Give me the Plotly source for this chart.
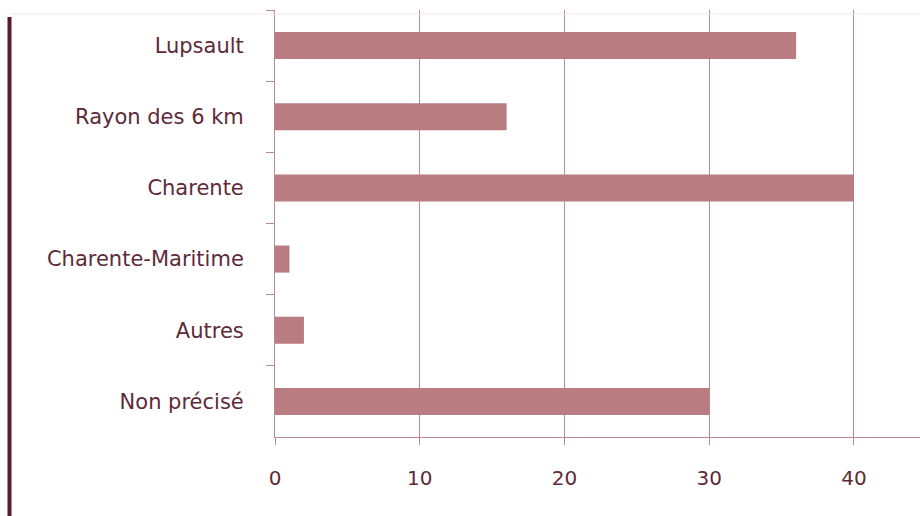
import plotly.graph_objects as go

categories = ["Lupsault", "Rayon des 6 km", "Charente", "Charente-Maritime", "Autres", "Non précisé"]
values = [36, 16, 40, 1, 2, 30]
x_ticks = [0, 10, 20, 30, 40]

bar_color = "#b97c80"
line_color = "#b98a95"
text_color = "#5e2a38"

fig = go.Figure(go.Bar(
    x=values, y=categories, orientation="h",
    marker=dict(color=bar_color, line=dict(width=0)),
    width=0.38,
))

fig.update_layout(
    width=920, height=516,
    margin=dict(l=275, r=0, t=10, b=79),
    paper_bgcolor="white", plot_bgcolor="white",
    showlegend=False,
    font=dict(family="DejaVu Sans", size=18, color=text_color),
    xaxis=dict(
        range=[0, 44.56], tickvals=x_ticks, ticktext=[str(v) for v in x_ticks],
        showgrid=True, gridcolor=line_color, gridwidth=1,
        zeroline=False, showline=True, linecolor=line_color, linewidth=1,
        ticks="outside", ticklen=7, tickcolor=line_color,
        tickfont=dict(family="DejaVu Sans", size=20, color=text_color),
        ticklabelstandoff=16,
    ),
    yaxis=dict(
        categoryorder="array", categoryarray=categories, autorange="reversed",
        showgrid=False, zeroline=False, showline=True, linecolor=line_color, linewidth=1,
        ticks="outside", ticklen=8, tickcolor=line_color, tickson="boundaries",
        tickfont=dict(family="DejaVu Sans", size=21, color=text_color),
        ticklabelstandoff=26,
    ),
    shapes=[
        dict(type="line", xref="paper", yref="paper",
             x0=(9.5 - 275) / 645, x1=(9.5 - 275) / 645, y0=(427 - 7) / 427, y1=(427 - 516) / 427,
             line=dict(color="#5a1a28", width=4)),
        dict(type="line", xref="paper", yref="paper",
             x0=(10 - 275) / 645, x1=1, y0=(427 - 7) / 427 + 3 / 427, y1=(427 - 7) / 427 + 3 / 427,
             line=dict(color="#f6e4e8", width=1)),
        dict(type="line", xref="paper", yref="paper",
             x0=(10 - 275) / 645, x1=1, y0=(427 - 514) / 427, y1=(427 - 514) / 427,
             line=dict(color="#ece0e3", width=1)),
    ],
)

fig.write_html("out.html")
